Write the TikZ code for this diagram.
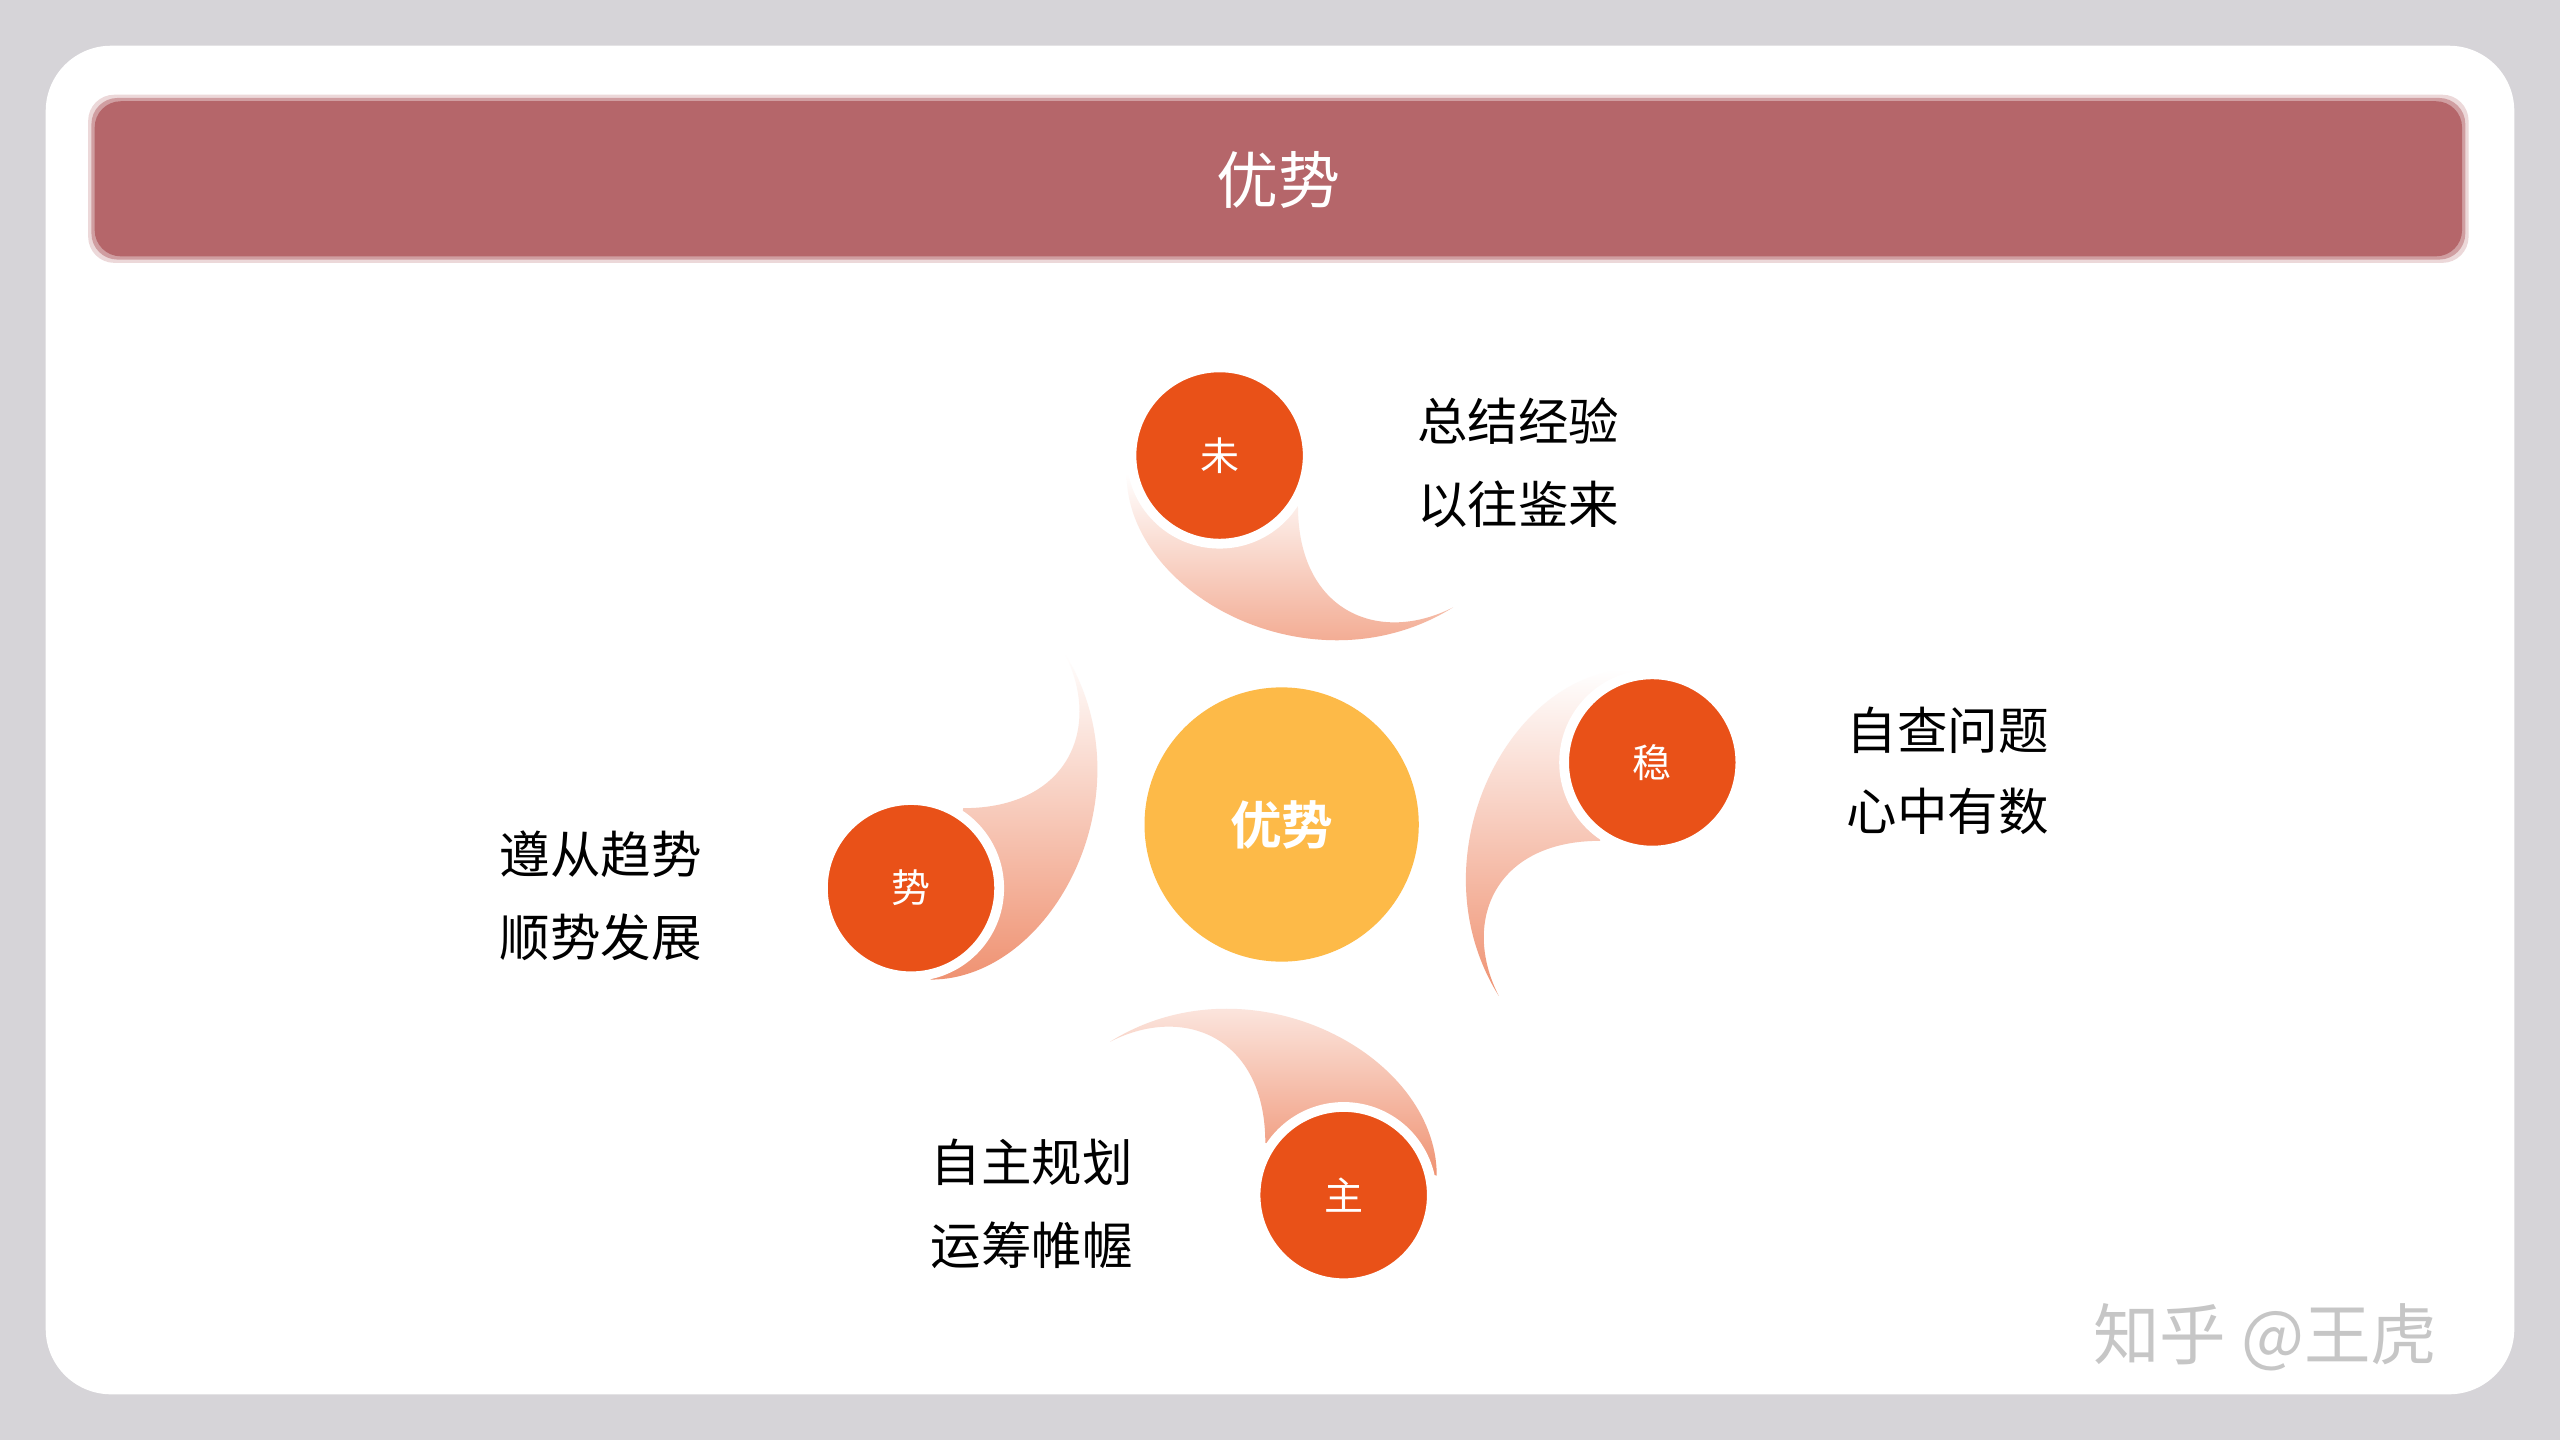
\documentclass[tikz,border=0pt]{standalone}
\usepackage{fontspec}
\setmainfont{Noto Sans CJK SC}
\newfontfamily\cjkb{Noto Sans CJK SC Bold}
\definecolor{bgc}{HTML}{D6D4D8}
\definecolor{barc}{HTML}{B5666A}
\definecolor{cenc}{HTML}{FDBA48}
\definecolor{orc}{HTML}{E95118}
\definecolor{tailc}{HTML}{EF9272}
\tikzset{
  lbl/.style={anchor=west,font=\fontsize{44}{44}\selectfont,text=black,inner sep=0pt},
  small/.style={circle,fill=orc,draw=white,line width=0.3cm,minimum size=5.4cm,text=white,font=\fontsize{34}{34}\selectfont},
}
\begin{document}
\begin{tikzpicture}[x=0.05cm,y=-0.05cm]
\useasboundingbox (0,0) rectangle (1568,882);
\fill[bgc] (0,0) rectangle (1568,882);
\fill[white,rounded corners=2cm] (28,28) rectangle (1540,854);
% title bar with soft edge
\foreach \d/\o in {4/0.25,2/0.5,0/1}{
  \fill[barc,opacity=\o,rounded corners=0.8cm] (58-\d,62-\d) rectangle (1508+\d,157+\d);}
\node[text=white,font=\fontsize{54}{54}\selectfont] (title) at (783,110) {优势};
% tails
\foreach \r/\a in {0/0,90/270,180/180,270/90}{
  \begin{scope}[shift={(785,505)},rotate=\r]
    \shade[shading=axis,shading angle=\a+60,top color=white,bottom color=tailc]
      (-95,-215) .. controls (-95,-140) and (20,-80) .. (105,-133)
      .. controls (60,-110) and (10,-130) .. (10,-195) -- cycle;
  \end{scope}}
\node[circle,fill=cenc,minimum size=8.4cm,text=white,font=\cjkb\fontsize{45}{45}\selectfont] (center) at (785,505) {优势};
\node[small] (wei) at (747,279) {未};
\node[small] (wen) at (1012,467) {稳};
\node[small] (zhu) at (823,732) {主};
\node[small] (shi) at (558,544) {势};
\node[lbl] (l1a) at (868,258) {总结经验};
\node[lbl] (l1b) at (868,309) {以往鉴来};
\node[lbl] (l2a) at (1131,447) {自查问题};
\node[lbl] (l2b) at (1131,497) {心中有数};
\node[lbl] (l3a) at (306,523) {遵从趋势};
\node[lbl] (l3b) at (306,574) {顺势发展};
\node[lbl] (l4a) at (570,712) {自主规划};
\node[lbl] (l4b) at (570,763) {运筹帷幄};
\node[anchor=west,inner sep=0pt,text=gray!45,font=\fontsize{58}{58}\selectfont] (wm) at (1282,819) {知乎 @王虎};
\end{tikzpicture}
\end{document}
